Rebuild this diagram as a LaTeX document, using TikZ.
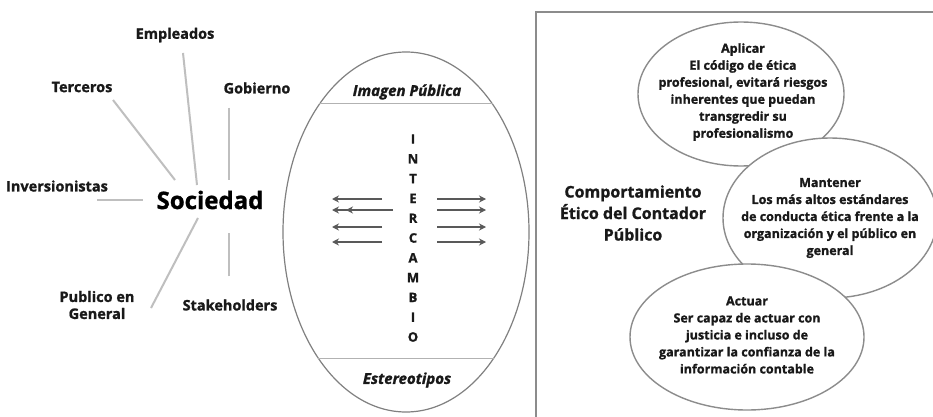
\documentclass[tikz,border=0pt]{standalone}
\usepackage{fontspec}
\setmainfont{Open Sans}[BoldFeatures={FakeBold=1.2}, BoldItalicFeatures={FakeBold=1.4}]
\usetikzlibrary{calc, positioning, shapes.geometric, arrows.meta}
\tikzset{actor/.style={font=\bfseries\fontsize{14.5}{17}\selectfont, text=black!90, align=center, inner sep=0pt}}
\tikzset{hub/.style={font=\bfseries\fontsize{24}{28}\selectfont, text=black, inner sep=0pt}}
\tikzset{spoke/.style={draw=black!25, line width=2pt}}
\tikzset{oval/.style={ellipse, draw=black!50, line width=1.2pt, inner sep=0pt}}
\tikzset{divider/.style={draw=black!30, line width=1pt}}
\tikzset{caption/.style={font=\bfseries\itshape\fontsize{15}{18}\selectfont, text=black!90, inner sep=0pt}}
\tikzset{letter/.style={font=\bfseries\fontsize{13}{14}\selectfont, text=black!90, inner sep=0pt}}
\tikzset{flow/.style={draw=black!65, line width=2pt, -{Stealth[length=7pt, width=7pt]}}}
\tikzset{frame/.style={draw=black!45, line width=1.5pt}}
\tikzset{bubble/.style={ellipse, draw=black!45, line width=1.4pt, fill=white, inner sep=0pt}}
\tikzset{note/.style={font=\bfseries\fontsize{12.5}{17}\selectfont, text=black!90, align=center, inner sep=0pt}}
\tikzset{theme/.style={font=\bfseries\fontsize{16}{21.5}\selectfont, text=black!90, align=center, inner sep=0pt}}

\begin{document}
\begin{tikzpicture}[x=1pt, y=-1pt]

    \useasboundingbox[fill=white] (0,0) rectangle (933,417);

    % sociedad y sus grupos
    \node[hub] (soc) at (210,200) {Sociedad};
    \node[actor] (emp) at (175,35) {Empleados};
    \node[actor] (ter) at (82,87) {Terceros};
    \node[actor] (gob) at (257,88) {Gobierno};
    \node[actor] (inv) at (57,186) {Inversionistas};
    \node[actor] (pub) at (97,305) {Publico en\\General};
    \node[actor] (stk) at (230,305) {Stakeholders};

    \foreach \n/\ax/\ay/\bx/\by in {emp/8/18/-13/-15, ter/31/13/-35/-20, gob/-28/20/19/-20,
                                   inv/40/14/-67/0, pub/54/3/-12/18, stk/-1/-29/19/33}
        \draw[spoke] ($(\n)+(\ax,\ay)$) -- ($(soc)+(\bx,\by)$);

    % intercambio
    \node[oval, minimum width=246, minimum height=360] (big) at (406,232) {};
    \draw[divider] (big.124) -- (big.56);
    \draw[divider] (big.-125) -- (big.-55);
    \node[caption] (img) at (407,92) {Imagen Pública};
    \node[caption] (est) at (407,380) {Estereotipos};

    \foreach \l [count=\i from 0] in {I,N,T,E,R,C,A,M,B,I,O}
        \node[letter] (ic\i) at (413,{139+19.8*\i}) {\l};

    \foreach \y in {199,210,227,242} {
        \draw[flow] (382,\y) -- (332,\y);
        \draw[flow] (437,\y) -- (486,\y);
    }
    \draw[flow] (393,210) -- (346,210);

    % comportamiento etico
    \draw[frame] (536,430) |- (945,12);
    \node[theme] (cep) at (633,213) {Comportamiento\\Ético del Contador\\Público};

    \node[bubble, minimum width=206, minimum height=144] (apl) at (741,94) {};
    \node[note] (apl-t) at (743,92) {Aplicar\\El código de ética\\profesional, evitará riesgos\\inherentes que puedan\\transgredir su\\profesionalismo};

    \node[bubble, minimum width=214, minimum height=160] (man) at (830,218) {};
    \node[note] (man-t) at (830,218) {Mantener\\Los más altos estándares\\de conducta ética frente a la\\organización y el público en\\general};

    \node[bubble, minimum width=234, minimum height=146] (act) at (747,337) {};
    \node[note] (act-t) at (747,335) {Actuar\\Ser capaz de actuar con\\justicia e incluso de\\garantizar la confianza de la\\información contable};

\end{tikzpicture}
\end{document}
